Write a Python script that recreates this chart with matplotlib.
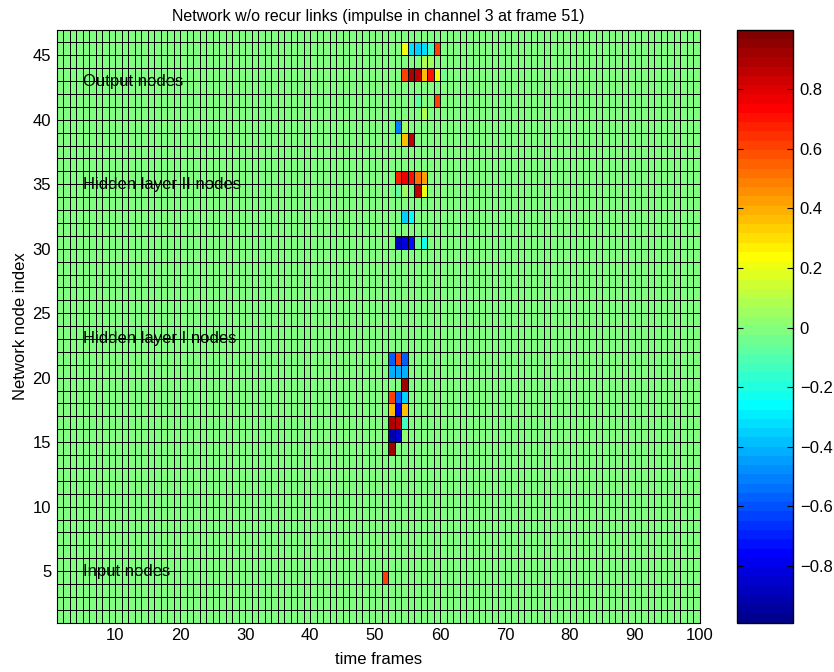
import matplotlib
matplotlib.use('Agg')
import matplotlib.pyplot as plt
from matplotlib.colors import ListedColormap
import numpy as np

plt.rcParams['font.family'] = ['Liberation Sans', 'DejaVu Sans']
plt.rcParams['font.size'] = 12

# grid size (pcolor vertices)
n_frames = 100
n_nodes = 47

# non-zero cells: frame, node, activation
cell_x = [54, 55, 56, 57, 58, 59,
          57, 58,
          54, 55, 56, 57, 58, 59, 60,
          59, 56,
          57,
          53, 54,
          54, 55,
          53, 54, 55, 56, 57,
          53, 54, 56, 57,
          54, 55,
          53, 54, 55, 56, 57,
          52, 53, 54,
          52, 53, 54,
          54,
          52, 53, 54,
          52, 53, 54,
          52, 53, 54,
          52, 53, 54,
          52,
          51]
cell_y = [45, 45, 45, 45, 45, 45,
          44, 44,
          43, 43, 43, 43, 43, 43, 43,
          41, 41,
          40,
          39, 39,
          38, 38,
          35, 35, 35, 35, 35,
          34, 34, 34, 34,
          32, 32,
          30, 30, 30, 30, 30,
          21, 21, 21,
          20, 20, 20,
          19,
          18, 18, 18,
          17, 17, 17,
          16, 16, 16,
          15, 15, 15,
          14,
          4]
cell_val = [0.22, -0.32, -0.35, -0.33, -0.12, 0.62,
            0.08, 0.05,
            0.62, 0.9, 0.86, 0.36, 0.72, 0.2, -0.05,
            0.62, -0.06,
            0.08,
            -0.52, 0.05,
            0.36, 0.86,
            0.66, 0.76, 0.7, 0.52, 0.42,
            -0.06, 0.04, 0.86, 0.2,
            -0.36, -0.26,
            -0.88, -0.82, -0.72, -0.04, -0.22,
            -0.56, 0.6, -0.56,
            -0.42, -0.4, -0.4,
            0.92,
            0.62, -0.56, -0.36,
            0.36, -0.8, 0.36,
            0.88, 0.86, -0.12,
            -0.92, -0.86, 0.03,
            0.92,
            0.62]

labels = ['Output nodes', 'Hidden layer II nodes', 'Hidden layer I nodes', 'Input nodes']
label_y = [43, 35, 23, 5]


def matlab_jet(m=64):
    n = int(np.ceil(m / 4))
    u = np.concatenate([np.arange(1, n + 1) / n, np.ones(n - 1), np.arange(n, 0, -1) / n])
    g = int(np.ceil(n / 2)) - (1 if m % 4 == 1 else 0) + np.arange(1, len(u) + 1)
    r = g + n
    b = g - n
    cmap = np.zeros((m, 3))
    for idx, ch in ((r, 0), (g, 1), (b, 2)):
        ok = (idx > 0) & (idx <= m)
        cmap[idx[ok] - 1, ch] = u[ok]
    return ListedColormap(cmap)


C = np.zeros((n_nodes - 1, n_frames - 1))
for xx, yy, vv in zip(cell_x, cell_y, cell_val):
    C[yy - 1, xx - 1] = vv

X = np.arange(1, n_frames + 1)
Y = np.arange(1, n_nodes + 1)

fig = plt.figure(figsize=(8.34, 6.72), dpi=100)
ax = fig.add_axes([0.068, 0.0734, 0.7712, 0.8827])
cax = fig.add_axes([0.8837, 0.0734, 0.067, 0.8827])

mesh = ax.pcolormesh(X, Y, C, cmap=matlab_jet(64), vmin=-0.99, vmax=1.0,
                     edgecolors='k', linewidth=0.5, shading='flat')
ax.set_xlim(1, 100)
ax.set_ylim(1, 47)
ax.set_xticks(np.arange(10, 101, 10))
ax.set_yticks(np.arange(5, 46, 5))
ax.tick_params(direction='in', length=0, pad=4)
ax.set_xlabel('time frames', labelpad=6)
ax.set_ylabel('Network node index', labelpad=3)
ax.set_title('Network w/o recur links (impulse in channel 3 at frame 51)', fontsize=11.5, pad=6)

for txt, ty in zip(labels, label_y):
    ax.text(5, ty, txt, ha='left', va='center', zorder=5)

cb = fig.colorbar(mesh, cax=cax)
cb.set_ticks(np.arange(-0.8, 0.81, 0.2))
cb.set_ticklabels(['\u22120.8', '\u22120.6', '\u22120.4', '\u22120.2', '0', '0.2', '0.4', '0.6', '0.8'])
cax.tick_params(direction='in', length=4, left=True, right=True, pad=5)
cb.outline.set_linewidth(1)

fig.savefig('out.png', dpi=100)
